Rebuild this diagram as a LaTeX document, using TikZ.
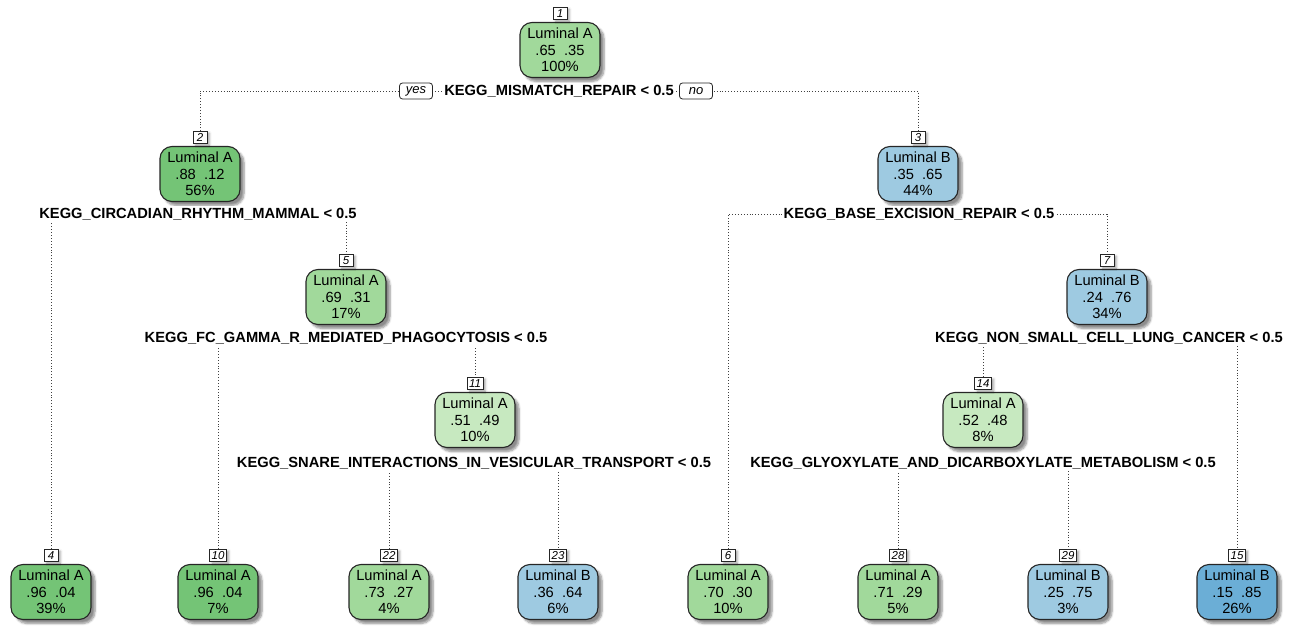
\documentclass[tikz,border=0pt]{standalone}
\usepackage{fontspec}
\setmainfont{Liberation Sans}
\usetikzlibrary{shadows.blur,backgrounds}
\definecolor{gnlo}{HTML}{C7E9C0}
\definecolor{gnmid}{HTML}{A1D99B}
\definecolor{gnhi}{HTML}{74C476}
\definecolor{bumid}{HTML}{9ECAE1}
\definecolor{buhi}{HTML}{6BAED6}
\tikzset{
  cls/.style={draw=black!85,line width=1.1pt,rounded corners=12pt,minimum width=80pt,
    minimum height=55pt,inner sep=0pt,align=center,font=\fontsize{14.7}{16.5}\selectfont,
    blur shadow={shadow xshift=4pt,shadow yshift=-4pt,shadow blur steps=6,shadow opacity=45}},
  num/.style={draw=black!85,fill=white,line width=.8pt,anchor=south,inner xsep=2pt,inner ysep=0pt,
    minimum width=14pt,minimum height=12pt,font=\fontsize{11.5}{11.5}\selectfont\itshape,
    blur shadow={shadow xshift=2.5pt,shadow yshift=-1.5pt,shadow blur steps=3,shadow opacity=35}},
  split/.style={fill=white,inner sep=1.5pt,font=\fontsize{14.7}{16.5}\selectfont\bfseries},
  yn/.style={draw=black!85,fill=white,line width=.8pt,rounded corners=3pt,inner xsep=5pt,
    inner ysep=1pt,minimum width=33pt,minimum height=16pt,font=\fontsize{13}{13}\selectfont\itshape},
  branch/.style={dotted,line width=.9pt,black!75}
}
\begin{document}
\begin{tikzpicture}[x=1pt,y=-1pt]
\useasboundingbox(0,0)rectangle(1298,628);
% inner nodes
\node[cls,fill=gnmid](n1)at(560,50){Luminal A\\.65\ \ .35\\100\%};
\node[cls,fill=gnhi](n2)at(200,174){Luminal A\\.88\ \ .12\\56\%};
\node[cls,fill=bumid](n3)at(918,174){Luminal B\\.35\ \ .65\\44\%};
\node[cls,fill=gnmid](n5)at(346,297){Luminal A\\.69\ \ .31\\17\%};
\node[cls,fill=bumid](n7)at(1107,297){Luminal B\\.24\ \ .76\\34\%};
\node[cls,fill=gnlo](n11)at(475,420){Luminal A\\.51\ \ .49\\10\%};
\node[cls,fill=gnlo](n14)at(983,420){Luminal A\\.52\ \ .48\\8\%};
% leaves
\node[cls,fill=gnhi](n4)at(51,592){Luminal A\\.96\ \ .04\\39\%};
\node[cls,fill=gnhi](n10)at(218,592){Luminal A\\.96\ \ .04\\7\%};
\node[cls,fill=gnmid](n22)at(389,592){Luminal A\\.73\ \ .27\\4\%};
\node[cls,fill=bumid](n23)at(558,592){Luminal B\\.36\ \ .64\\6\%};
\node[cls,fill=gnmid](n6)at(728,592){Luminal A\\.70\ \ .30\\10\%};
\node[cls,fill=gnmid](n28)at(898,592){Luminal A\\.71\ \ .29\\5\%};
\node[cls,fill=bumid](n29)at(1068,592){Luminal B\\.25\ \ .75\\3\%};
\node[cls,fill=buhi](n15)at(1237,592){Luminal B\\.15\ \ .85\\26\%};
% node numbers
\foreach \k in {1,2,3,4,5,6,7,10,11,14,15,22,23,28,29}
  \node[num](k\k)at([yshift=2pt]n\k.north){\k};
% split labels
\node[split](s1)at(559,91){KEGG\_MISMATCH\_REPAIR < 0.5};
\node[split](s2)at(198,214){KEGG\_CIRCADIAN\_RHYTHM\_MAMMAL < 0.5};
\node[split](s3)at(919,214){KEGG\_BASE\_EXCISION\_REPAIR < 0.5};
\node[split](s5)at(346,338){KEGG\_FC\_GAMMA\_R\_MEDIATED\_PHAGOCYTOSIS < 0.5};
\node[split](s7)at(1109,338){KEGG\_NON\_SMALL\_CELL\_LUNG\_CANCER < 0.5};
\node[split](s11)at(474,463){KEGG\_SNARE\_INTERACTIONS\_IN\_VESICULAR\_TRANSPORT < 0.5};
\node[split](s14)at(983,463){KEGG\_GLYOXYLATE\_AND\_DICARBOXYLATE\_METABOLISM < 0.5};
\node[yn](yes)at(416,91){yes};
\node[yn](no)at(696,91){no};
% branches
\begin{pgfonlayer}{background}
\draw[branch](k2.north)|-(s1.center)-|(k3.north);
\draw[branch](k4.north)|-(s2.center)-|(k5.north);
\draw[branch](k6.north)|-(s3.center)-|(k7.north);
\draw[branch](k10.north)|-(s5.center)-|(k11.north);
\draw[branch](k14.north)|-(s7.center)-|(k15.north);
\draw[branch](k22.north)|-(s11.center)-|(k23.north);
\draw[branch](k28.north)|-(s14.center)-|(k29.north);
\end{pgfonlayer}
\end{tikzpicture}
\end{document}
